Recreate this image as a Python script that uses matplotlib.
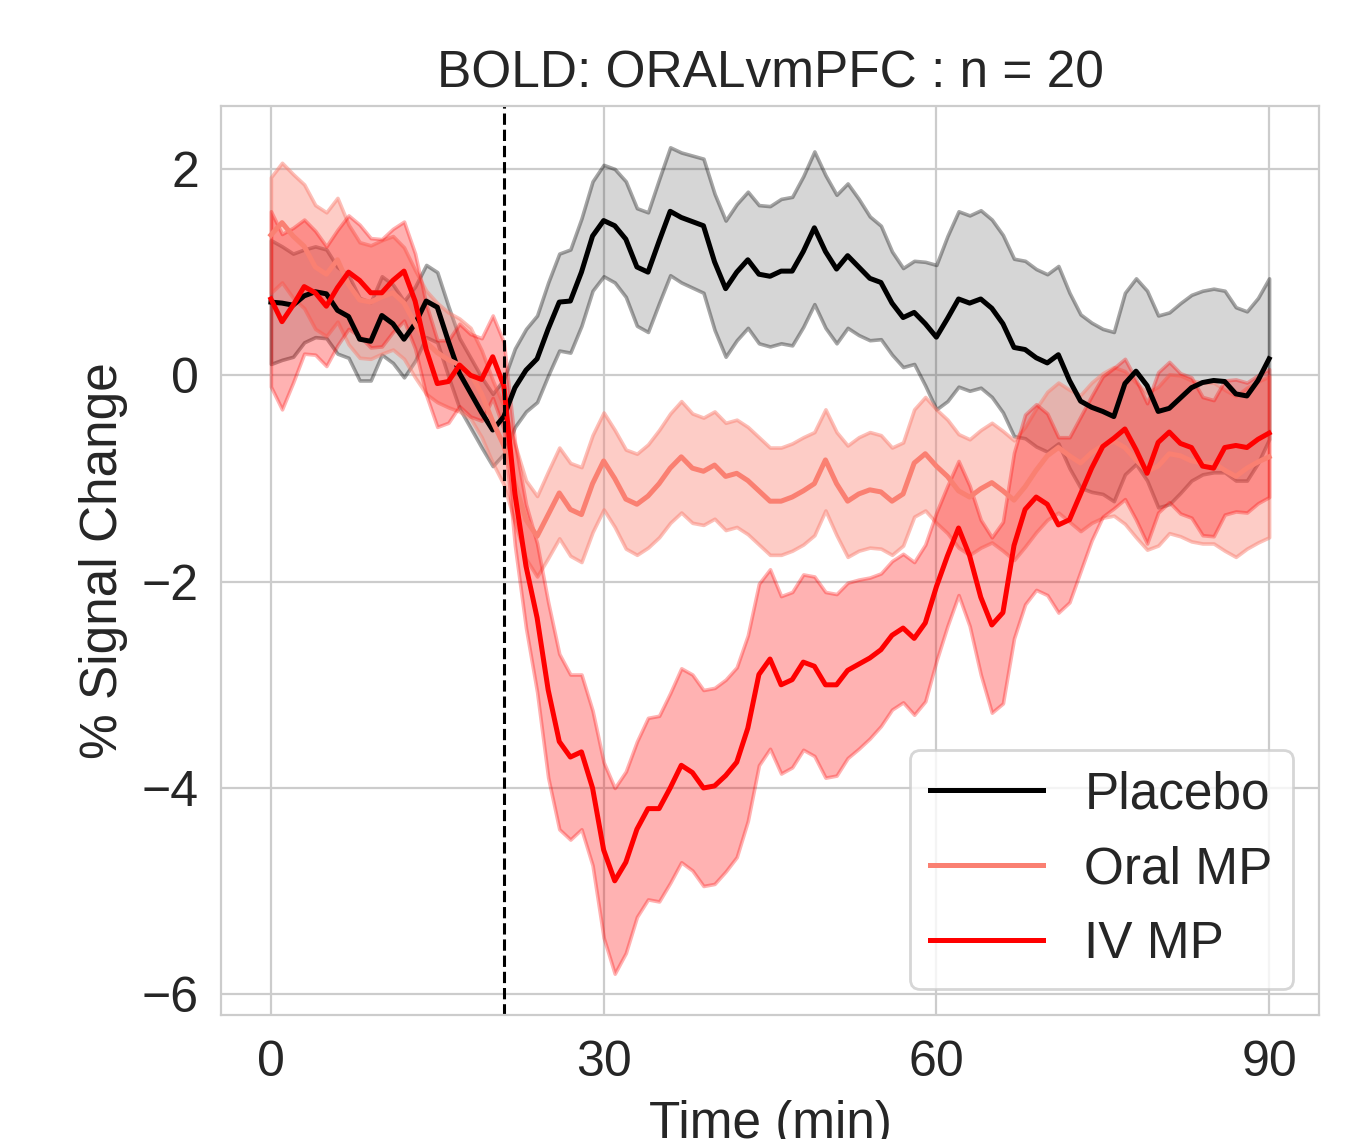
import matplotlib
matplotlib.use('Agg')
import matplotlib.pyplot as plt
import numpy as np

plt.rcParams['font.family'] = ['Liberation Sans', 'DejaVu Sans']
plt.rcParams['text.color'] = '.15'
plt.rcParams['axes.labelcolor'] = '.15'
plt.rcParams['xtick.color'] = '.15'
plt.rcParams['ytick.color'] = '.15'

# minutes from start of scan
time = np.arange(0, 91)
infusion_time = 21

placebo_mean = [
    0.71, 0.70, 0.68, 0.77, 0.81, 0.79, 0.63, 0.57, 0.35, 0.33,
    0.58, 0.50, 0.35, 0.50, 0.72, 0.66, 0.33, 0.02, -0.17, -0.36,
    -0.53, -0.40, -0.12, 0.05, 0.16, 0.45, 0.71, 0.72, 1.00, 1.35,
    1.50, 1.45, 1.32, 1.05, 1.00, 1.30, 1.59, 1.53, 1.49, 1.45,
    1.10, 0.84, 1.00, 1.12, 0.98, 0.96, 1.01, 1.01, 1.20, 1.43,
    1.20, 1.03, 1.16, 1.05, 0.94, 0.90, 0.70, 0.56, 0.61, 0.50,
    0.37, 0.55, 0.74, 0.70, 0.74, 0.65, 0.50, 0.27, 0.25, 0.17,
    0.12, 0.20, -0.05, -0.25, -0.31, -0.35, -0.40, -0.08, 0.04, -0.10,
    -0.35, -0.32, -0.22, -0.12, -0.07, -0.05, -0.06, -0.18, -0.20, -0.05,
    0.16]
placebo_sem = [
    0.60, 0.55, 0.50, 0.45, 0.44, 0.43, 0.42, 0.40, 0.40, 0.38,
    0.38, 0.38, 0.37, 0.36, 0.35, 0.34, 0.34, 0.34, 0.34, 0.34,
    0.35, 0.36, 0.38, 0.40, 0.42, 0.45, 0.47, 0.50, 0.52, 0.53,
    0.54, 0.55, 0.56, 0.57, 0.58, 0.60, 0.62, 0.63, 0.64, 0.65,
    0.66, 0.66, 0.66, 0.66, 0.67, 0.68, 0.70, 0.72, 0.73, 0.74,
    0.74, 0.72, 0.70, 0.66, 0.60, 0.55, 0.50, 0.48, 0.50, 0.60,
    0.70, 0.80, 0.85, 0.85, 0.86, 0.86, 0.86, 0.86, 0.86, 0.86,
    0.86, 0.86, 0.85, 0.84, 0.82, 0.80, 0.82, 0.88, 0.90, 0.92,
    0.93, 0.93, 0.92, 0.90, 0.89, 0.89, 0.88, 0.84, 0.82, 0.80,
    0.78]

oral_mean = [
    1.36, 1.48, 1.35, 1.25, 1.05, 0.98, 1.12, 0.88, 0.73, 0.71,
    0.76, 0.80, 0.70, 0.50, 0.32, 0.22, 0.15, 0.10, 0.02, -0.18,
    -0.45, -0.68, -1.05, -1.40, -1.56, -1.35, -1.14, -1.30, -1.35, -1.05,
    -0.83, -1.00, -1.20, -1.25, -1.17, -1.05, -0.90, -0.79, -0.90, -0.93,
    -0.87, -0.98, -0.95, -1.02, -1.12, -1.22, -1.22, -1.18, -1.12, -1.05,
    -0.82, -1.05, -1.22, -1.15, -1.11, -1.13, -1.22, -1.15, -0.85, -0.76,
    -0.88, -0.98, -1.12, -1.18, -1.10, -1.04, -1.12, -1.21, -1.08, -0.92,
    -0.78, -0.70, -0.78, -0.85, -0.75, -0.68, -0.64, -0.70, -0.82, -0.93,
    -0.88, -0.76, -0.78, -0.83, -0.85, -0.85, -0.92, -0.98, -0.90, -0.84,
    -0.79]
oral_sem = [
    0.56, 0.58, 0.60, 0.60, 0.60, 0.60, 0.60, 0.58, 0.56, 0.55,
    0.55, 0.55, 0.54, 0.52, 0.50, 0.48, 0.46, 0.45, 0.44, 0.42,
    0.40, 0.38, 0.38, 0.38, 0.39, 0.42, 0.44, 0.45, 0.46, 0.47,
    0.47, 0.47, 0.48, 0.49, 0.50, 0.52, 0.53, 0.54, 0.53, 0.52,
    0.52, 0.52, 0.52, 0.52, 0.52, 0.52, 0.52, 0.52, 0.52, 0.50,
    0.49, 0.50, 0.54, 0.55, 0.56, 0.55, 0.52, 0.50, 0.52, 0.55,
    0.55, 0.55, 0.55, 0.56, 0.57, 0.58, 0.58, 0.58, 0.58, 0.60,
    0.62, 0.63, 0.64, 0.66, 0.68, 0.70, 0.72, 0.74, 0.75, 0.76,
    0.77, 0.77, 0.78, 0.78, 0.78, 0.78, 0.78, 0.78, 0.78, 0.78,
    0.78]

iv_mean = [
    0.74, 0.52, 0.68, 0.86, 0.80, 0.67, 0.85, 1.00, 0.92, 0.80,
    0.80, 0.92, 1.01, 0.72, 0.25, -0.08, -0.06, 0.10, 0.00, -0.04,
    0.18, -0.10, -1.15, -1.85, -2.35, -3.05, -3.55, -3.70, -3.65, -4.00,
    -4.60, -4.90, -4.72, -4.40, -4.20, -4.20, -4.00, -3.78, -3.85, -4.00,
    -3.98, -3.88, -3.75, -3.42, -2.90, -2.75, -3.00, -2.95, -2.78, -2.82,
    -3.00, -3.00, -2.86, -2.80, -2.74, -2.66, -2.52, -2.45, -2.55, -2.40,
    -2.05, -1.75, -1.48, -1.75, -2.15, -2.42, -2.30, -1.65, -1.30, -1.18,
    -1.25, -1.45, -1.40, -1.15, -0.90, -0.69, -0.61, -0.52, -0.72, -0.95,
    -0.65, -0.55, -0.66, -0.70, -0.88, -0.90, -0.70, -0.68, -0.70, -0.62,
    -0.56]
iv_sem = [
    0.85, 0.85, 0.75, 0.65, 0.60, 0.58, 0.56, 0.55, 0.54, 0.53,
    0.52, 0.50, 0.48, 0.46, 0.44, 0.42, 0.40, 0.40, 0.40, 0.40,
    0.40, 0.42, 0.50, 0.60, 0.72, 0.85, 0.85, 0.80, 0.75, 0.75,
    0.85, 0.90, 0.88, 0.85, 0.88, 0.90, 0.92, 0.94, 0.95, 0.95,
    0.95, 0.93, 0.92, 0.90, 0.88, 0.87, 0.86, 0.85, 0.85, 0.87,
    0.90, 0.88, 0.85, 0.82, 0.78, 0.74, 0.72, 0.72, 0.74, 0.76,
    0.72, 0.68, 0.65, 0.68, 0.75, 0.85, 0.88, 0.90, 0.92, 0.90,
    0.88, 0.85, 0.80, 0.75, 0.70, 0.68, 0.68, 0.68, 0.68, 0.68,
    0.68, 0.68, 0.68, 0.68, 0.67, 0.66, 0.65, 0.64, 0.63, 0.62,
    0.62]

groups = [
    ('Placebo', placebo_mean, placebo_sem, 'k', 0.16, 0.35),
    ('Oral MP', oral_mean, oral_sem, 'salmon', 0.4, 0.5),
    ('IV MP', iv_mean, iv_sem, 'red', 0.3, 0.3),
]

fig = plt.figure(figsize=(1347 / 200, 1139 / 200), dpi=200)
ax = fig.add_axes([221 / 1347, 1 - 1015 / 1139, 1098 / 1347, 909 / 1139])

for name, mean, sem, color, fill_alpha, edge_alpha in groups:
    mean = np.array(mean)
    sem = np.array(sem)
    face = matplotlib.colors.to_rgba(color, fill_alpha)
    edge = matplotlib.colors.to_rgba(color, edge_alpha)
    ax.fill_between(time, mean - sem, mean + sem, facecolor=face,
                    edgecolor=edge, linewidth=1.3)
    ax.plot(time, mean, color=color, lw=1.8, label=name)

ax.axvline(infusion_time, color='k', linestyle='--', lw=1.1)

ax.set_xticks([0, 30, 60, 90])
ax.set_yticks([-6, -4, -2, 0, 2])
ax.grid(True, color='.8', lw=0.8)
ax.set_axisbelow(True)
for spine in ax.spines.values():
    spine.set_color('.8')
    spine.set_linewidth(0.8)
ax.tick_params(axis='x', length=0, labelsize=18, pad=9)
ax.tick_params(axis='y', length=0, labelsize=18, pad=8)

# x label sits partly below the canvas edge, as in the source figure
ax.set_xlabel('Time (min)', fontsize=18.5, labelpad=5)
ax.set_ylabel('% Signal Change', fontsize=18.5, labelpad=5)
ax.set_title('BOLD: ORALvmPFC : n = 20', fontsize=18.5, pad=6.5)

leg = ax.legend(loc='lower right', fontsize=18.5, fancybox=True,
                handlelength=2.2)
leg.get_frame().set_edgecolor('.8')

fig.savefig('out.png', dpi=200)
